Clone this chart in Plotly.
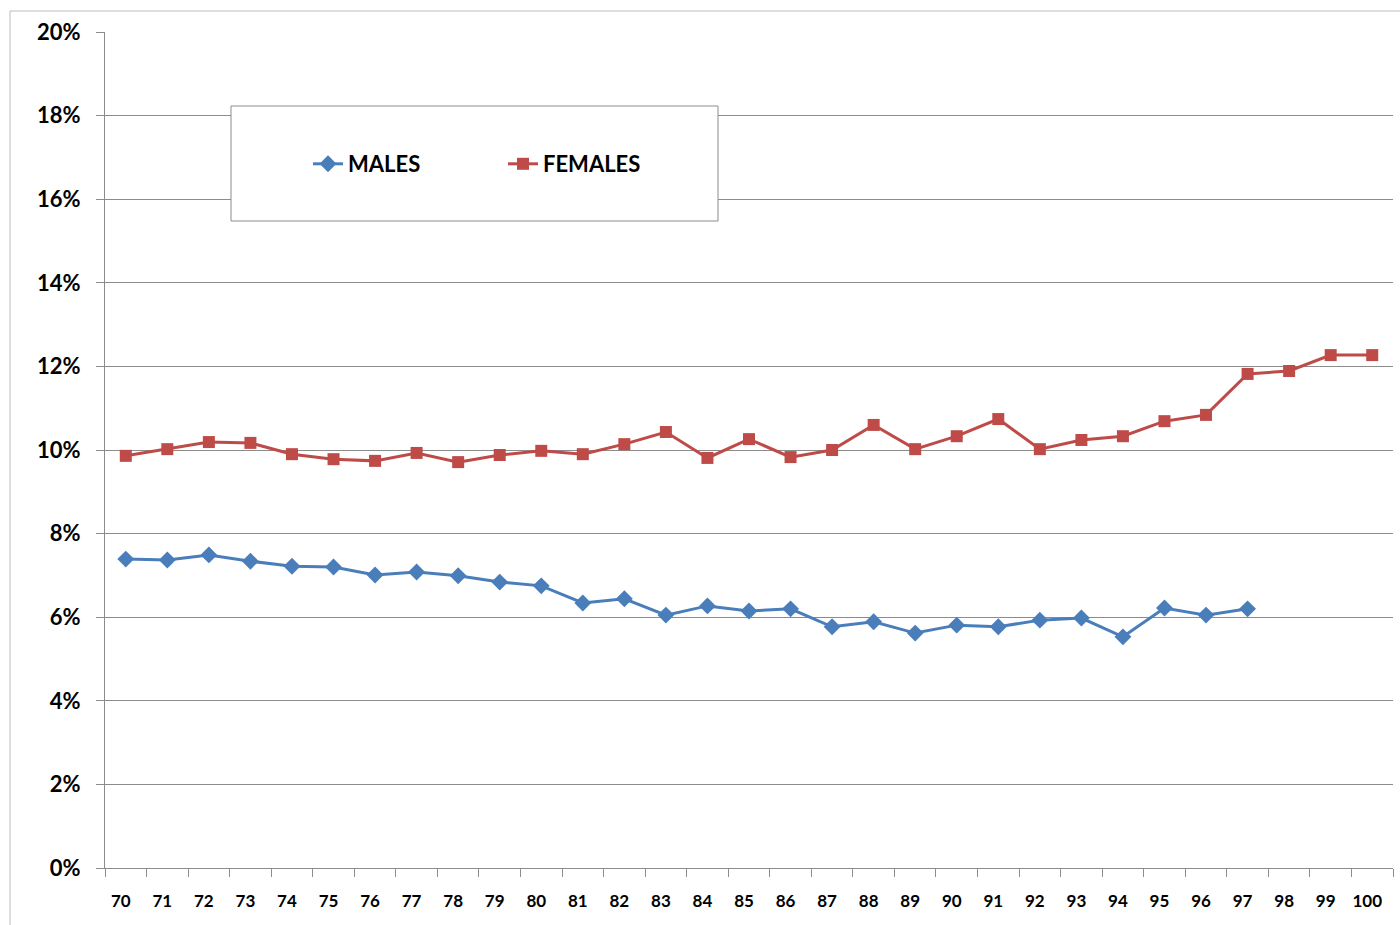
import plotly.graph_objects as go

ages = [str(a) for a in range(70, 101)]

males = [7.39, 7.37, 7.49, 7.34, 7.22, 7.20, 7.01, 7.08, 6.99, 6.84,
         6.75, 6.34, 6.44, 6.05, 6.27, 6.15, 6.20, 5.77, 5.89, 5.62,
         5.81, 5.77, 5.93, 5.98, 5.53, 6.22, 6.05, 6.20]

females = [9.86, 10.02, 10.19, 10.17, 9.90, 9.78, 9.74, 9.93, 9.71, 9.88,
           9.98, 9.90, 10.14, 10.43, 9.81, 10.26, 9.83, 10.00, 10.60, 10.02,
           10.33, 10.74, 10.02, 10.24, 10.33, 10.69, 10.84, 11.82, 11.89, 12.27,
           12.27]

y_ticks = list(range(0, 21, 2))
y_tick_text = [f"{v}%" for v in y_ticks]

BLUE = "#4A7EBB"
RED = "#BE4B48"
GRID = "#8C8C8C"
FONT = "Lato, 'Open Sans', sans-serif"

fig = go.Figure()
fig.add_trace(go.Scatter(
    x=ages[:len(males)], y=males, name="MALES", mode="lines+markers",
    line=dict(color=BLUE, width=3),
    marker=dict(symbol="diamond", size=13, color=BLUE),
))
fig.add_trace(go.Scatter(
    x=ages, y=females, name="FEMALES", mode="lines+markers",
    line=dict(color=RED, width=3),
    marker=dict(symbol="square", size=12, color=RED),
))

W, H = 1400, 925
L, R, T, B = 105, 7, 32, 57
pw = W - L - R
ph = H - T - B


def px_x(x):
    return (x - L) / pw


def px_y(y):
    return (H - B - y) / ph


shapes = [
    # outer chart frame
    dict(type="rect", xref="paper", yref="paper",
         x0=px_x(10), x1=px_x(1420), y0=px_y(940), y1=px_y(11),
         line=dict(color="#BDBDBD", width=1), fillcolor="rgba(0,0,0,0)",
         layer="below"),
    # legend box
    dict(type="rect", xref="paper", yref="paper",
         x0=px_x(231), x1=px_x(718), y0=px_y(221), y1=px_y(106),
         line=dict(color="#8C8C8C", width=1), fillcolor="white",
         layer="above"),
]

fig.update_layout(
    width=W, height=H,
    margin=dict(l=L, r=R, t=T, b=B, pad=0),
    paper_bgcolor="white", plot_bgcolor="white",
    font=dict(family=FONT, color="#000000"),
    shapes=shapes,
    showlegend=True,
    legend=dict(
        orientation="h",
        x=px_x(308), y=px_y(164), xanchor="left", yanchor="middle",
        bgcolor="rgba(0,0,0,0)", borderwidth=0,
        font=dict(size=22, family=FONT, color="#000000", weight="bold"),
        entrywidth=150, entrywidthmode="pixels",
    ),
    xaxis=dict(
        type="category", categoryorder="array", categoryarray=ages,
        range=[-0.5, len(ages) - 0.5],
        showgrid=False, showline=True, linecolor=GRID, linewidth=1,
        ticks="outside", tickson="boundaries", ticklen=8, tickcolor=GRID,
        tickfont=dict(size=17, family=FONT, weight="bold"),
        ticklabelstandoff=18, ticklabelshift=-5,
        zeroline=False,
    ),
    yaxis=dict(
        range=[0, 20], tickvals=y_ticks, ticktext=y_tick_text,
        showgrid=True, gridcolor=GRID, gridwidth=1,
        showline=True, linecolor=GRID, linewidth=1,
        ticks="outside", ticklen=8, tickcolor=GRID,
        tickfont=dict(size=22, family=FONT, weight="bold"),
        ticklabelstandoff=11,
        zeroline=False,
    ),
)

fig.write_html("out.html")
